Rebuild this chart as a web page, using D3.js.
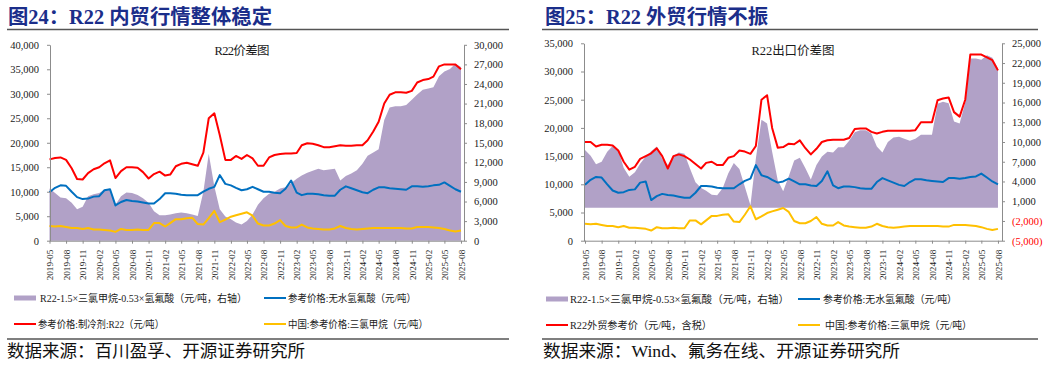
<!DOCTYPE html>
<html>
<head>
<meta charset="utf-8">
<script src="https://cdn.jsdelivr.net/npm/d3@7"></script>
<style>
  body { margin: 0; background: #fff; }
  svg { display: block; }
  text { font-family: "Liberation Serif", "Noto Sans CJK SC", serif; }
</style>
</head>
<body>
<svg id="chart" width="1057" height="366"></svg>
<script>
/* globals d3 */

// monthly samples, 2019-05 .. 2025-08
const months = d3.timeMonth.range(new Date(2019, 4, 1), new Date(2025, 8, 1));
const END_DATE = new Date(2025, 7, 20);

const tickLabels = [
  '2019-05', '2019-08', '2019-11', '2020-02', '2020-05', '2020-08', '2020-11',
  '2021-02', '2021-05', '2021-08', '2021-11', '2022-02', '2022-05', '2022-08',
  '2022-11', '2023-02', '2023-05', '2023-08', '2023-11', '2024-02', '2024-05',
  '2024-08', '2024-11', '2025-02', '2025-05', '2025-08',
];

// 参考价格:无水氢氟酸 (元/吨)
const hfPrice = [
  9900, 10800, 11300, 11200, 10000, 8900, 8500, 8600, 9000, 9100,
  10300, 10500, 7200, 7900, 8300, 8100, 8000, 7800, 7600, 7600,
  8500, 9700, 9700, 9600, 9400, 9300, 9300, 9300, 10000, 10600,
  11000, 13400, 11600, 11300, 10800, 10300, 10500, 11000, 10500, 10000,
  10000, 9800, 9700, 10600, 12300, 9800, 9300, 9600, 9600, 9500,
  9300, 9200, 9200, 10400, 11100, 10700, 10300, 9900, 9700, 10400,
  10900, 10900, 10700, 10600, 10500, 10400, 11100, 11100, 11000, 11100,
  11300, 11400, 11900, 11200, 10500, 10000,
];

// 中国:参考价格:三氯甲烷 (元/吨)
const tcmPrice = [
  3000, 2900, 3000, 2800, 2600, 2600, 2400, 2600, 2300, 2300,
  2200, 2100, 1800, 2400, 2200, 2200, 2300, 2200, 2200, 3600,
  3600, 2900, 3600, 4400, 4400, 4600, 4700, 3400, 3300, 4600,
  6100, 3800, 4300, 4900, 5200, 5500, 5800, 5100, 3500, 3100,
  3100, 3500, 4200, 3000, 2700, 2700, 3300, 2700, 2500, 2400,
  2300, 2300, 2500, 3000, 2600, 2400, 2300, 2400, 2500, 2600,
  2600, 2600, 2600, 2600, 2600, 2500, 2500, 2800, 2800, 2800,
  2700, 2600, 2400, 2100, 1900, 2100,
];

// 参考价格:制冷剂:R22 (元/吨)
const r22Domestic = [
  16600, 16900, 17000, 16500, 14800, 12600, 12500, 13800, 14600, 15000,
  15800, 16400, 12800, 14200, 15000, 15000, 14900, 14000, 12700, 13600,
  14100, 13300, 13500, 15200, 15700, 15900, 15600, 15300, 18000, 25000,
  26000, 21600, 16500, 16500, 17300, 16700, 17500, 16800, 15300, 15300,
  17000, 17500, 17700, 17800, 17800, 17900, 19500, 19900, 19800, 19500,
  19100, 19100, 19300, 19500, 19400, 19400, 19500, 19500, 20500, 22300,
  24300, 28000, 29800, 30300, 30300, 30200, 30600, 32300, 32800, 33000,
  33500, 35600, 36000, 36000, 36000, 35000,
];

// R22-1.5×三氯甲烷-0.53×氢氟酸, domestic (右轴)
const spreadDomestic = [
  8000, 7300, 6600, 6500, 5800, 4800, 5200, 6800, 7100, 7300,
  7800, 7800, 5500, 6800, 7400, 7300, 7000, 6500, 5800, 4500,
  3900, 3900, 4000, 4200, 4300, 4200, 4000, 3800, 7500, 13300,
  8300, 4800, 3700, 3300, 2800, 2500, 3000, 4000, 5500, 6500,
  7200, 7500, 8000, 8200, 8800, 9500, 10000, 10400, 10700, 11000,
  10800, 10900, 11000, 9200, 9900, 10300, 10800, 11800, 13000, 13500,
  14000, 18500, 20400, 20600, 20600, 20800, 21600, 22400, 23100, 23300,
  23500, 25200, 25900, 26300, 27100, 26600,
];

// R22外贸参考价 (元/吨, 含税)
const r22Export = [
  17500, 17500, 16700, 17000, 17000, 16900, 16000, 14000, 12600, 13100,
  14500, 15000, 15500, 16400, 15000, 12800, 15000, 15300, 15000, 14400,
  13600, 12800, 13800, 14000, 13400, 13400, 14700, 15000, 16000, 15800,
  15400, 16800, 25000, 25800, 20000, 16500, 16600, 17200, 17100, 17800,
  16400, 15300, 16300, 17500, 17800, 17900, 17900, 17900, 18200, 19800,
  19900, 19900, 19300, 19000, 19300, 19500, 19500, 19500, 19500, 19500,
  19600, 21000, 21000, 21000, 24900, 25200, 25400, 22800, 22000, 25000,
  33000, 33000, 33000, 32500, 32000, 30200,
];

// R22-1.5×三氯甲烷-0.53×氢氟酸, export (右轴)
const spreadExport = [
  8800, 7900, 6600, 7000, 8500, 9400, 8800, 6100, 4700, 5400,
  6700, 7800, 8600, 9300, 7400, 6500, 7900, 8400, 8200, 6000,
  3900, 3000, 2600, 2000, 1900, 3000, 5200, 6800, 5900, 3200,
  400, 7500, 13400, 12800, 8500, 4200, 2500, 4800, 7200, 7600,
  6000, 4300, 6500, 7800, 8500, 8400, 9200, 9200, 10200, 11500,
  11800, 11800, 11300, 9300, 8400, 10000, 10700, 10800, 10500, 10200,
  10500, 11100, 11100, 11100, 15800, 16100, 15900, 13100, 12800, 16000,
  22700, 22700, 22500, 23200, 22800, 21200,
];

const COLORS = {
  spread: '#b1a1c7',
  hf: '#0070c0',
  r22: '#ff0000',
  tcm: '#ffc000',
  axis: '#8c8c8c',
  label: '#1a1a1a',
  title: '#1b2e8a',
  rule: '#555',
};

const PANELS = [
  {
    title: '图24：R22 内贸行情整体稳定',
    titleX: 8,
    titleW: 264,
    rule: [7, 509],
    chartTitle: 'R22价差图',
    chartTitleX: 242,
    chartTitleW: 55,
    plot: { left: 50, right: 464, top: 44.8, bottom: 240.7 },
    xStart: 49.5,
    xEnd: 464.4,
    leftDomain: [0, 40000],
    leftStep: 5000,
    rightDomain: [0, 30000],
    rightStep: 3000,
    red: r22Domestic,
    spread: spreadDomestic,
    legend: [
      { key: 'spread', label: 'R22-1.5×三氯甲烷-0.53×氢氟酸（元/吨，右轴）', sx: 14, tx: 40, w: 207, y: 298 },
      { key: 'hf', label: '参考价格:无水氢氟酸（元/吨）', sx: 264, tx: 288, w: 128, y: 298 },
      { key: 'r22', label: '参考价格:制冷剂:R22（元/吨）', sx: 14, tx: 38, w: 126, y: 324 },
      { key: 'tcm', label: '中国:参考价格:三氯甲烷（元/吨）', sx: 264, tx: 288, w: 140, y: 324 },
    ],
    source: '数据来源：百川盈孚、开源证券研究所',
    sourceX: 7,
    sourceW: 298,
  },
  {
    title: '图25：R22 外贸行情不振',
    titleX: 545,
    titleW: 223,
    rule: [542, 1038],
    chartTitle: 'R22出口价差图',
    chartTitleX: 793,
    chartTitleW: 83,
    plot: { left: 584, right: 1002, top: 43.3, bottom: 240.7 },
    xStart: 585,
    xEnd: 1001.4,
    leftDomain: [0, 35000],
    leftStep: 5000,
    rightDomain: [-5000, 25000],
    rightStep: 3000,
    red: r22Export,
    spread: spreadExport,
    legend: [
      { key: 'spread', label: 'R22-1.5×三氯甲烷-0.53×氢氟酸（元/吨，右轴）', sx: 546, tx: 570, w: 219, y: 299 },
      { key: 'hf', label: '参考价格:无水氢氟酸（元/吨）', sx: 798, tx: 823, w: 134, y: 299 },
      { key: 'r22', label: 'R22外贸参考价（元/吨，含税）', sx: 546, tx: 570, w: 142, y: 325 },
      { key: 'tcm', label: '中国:参考价格:三氯甲烷（元/吨）', sx: 798, tx: 825, w: 147, y: 325 },
    ],
    source: '数据来源：Wind、氟务在线、开源证券研究所',
    sourceX: 543,
    sourceW: 357,
  },
];

const fmtNum = d3.format(',');
const fmtAcct = v => (v < 0 ? `(${fmtNum(-v)})` : fmtNum(v));
const parseMonth = d3.timeParse('%Y-%m');

const styleAxis = g => {
  g.select('.domain').attr('stroke', COLORS.axis);
  g.selectAll('.tick line').attr('stroke', COLORS.axis);
  g.selectAll('.tick text')
    .attr('fill', COLORS.label)
    .attr('font-family', '"Liberation Serif", serif')
    .attr('font-size', 10.5);
};

const makePanel = (svg, cfg) => {
  const { plot } = cfg;
  const g = svg.append('g');

  const x = d3.scaleTime()
    .domain([months[0], END_DATE])
    .range([cfg.xStart, cfg.xEnd]);
  const yL = d3.scaleLinear().domain(cfg.leftDomain).range([plot.bottom, plot.top]);
  const yR = d3.scaleLinear().domain(cfg.rightDomain).range([plot.bottom, plot.top]);

  // header
  g.append('text')
    .attr('x', cfg.titleX)
    .attr('y', 24)
    .attr('font-size', 20)
    .attr('font-weight', 700)
    .attr('fill', COLORS.title)
    .attr('textLength', cfg.titleW)
    .attr('lengthAdjust', 'spacingAndGlyphs')
    .text(cfg.title);
  g.append('line')
    .attr('x1', cfg.rule[0]).attr('x2', cfg.rule[1])
    .attr('y1', 29.5).attr('y2', 29.5)
    .attr('stroke', COLORS.rule).attr('stroke-width', 1.5);

  // spread area on the right axis
  const area = d3.area()
    .x((d, i) => x(months[i]))
    .y0(yR(0))
    .y1(d => yR(d));
  g.append('path')
    .datum(cfg.spread)
    .attr('d', area)
    .attr('fill', COLORS.spread);

  const line = d3.line()
    .x((d, i) => x(months[i]))
    .y(d => yL(d));
  [
    [hfPrice, COLORS.hf],
    [tcmPrice, COLORS.tcm],
    [cfg.red, COLORS.r22],
  ].forEach(([values, color]) => {
    g.append('path')
      .datum(values)
      .attr('d', line)
      .attr('fill', 'none')
      .attr('stroke', color)
      .attr('stroke-width', 2)
      .attr('stroke-linejoin', 'round');
  });

  // axes
  g.append('g')
    .attr('transform', `translate(${plot.left},0)`)
    .call(d3.axisLeft(yL)
      .tickValues(d3.range(cfg.leftDomain[0], cfg.leftDomain[1] + 1, cfg.leftStep))
      .tickSize(3).tickPadding(8).tickSizeOuter(0)
      .tickFormat(fmtNum))
    .call(styleAxis);

  g.append('g')
    .attr('transform', `translate(${plot.right},0)`)
    .call(d3.axisRight(yR)
      .tickValues(d3.range(cfg.rightDomain[0], cfg.rightDomain[1] + 1, cfg.rightStep))
      .tickSize(3).tickPadding(7).tickSizeOuter(0)
      .tickFormat(fmtAcct))
    .call(styleAxis)
    .call(ax => ax.selectAll('.tick text')
      .attr('fill', d => (d < 0 ? COLORS.r22 : COLORS.label)));

  g.append('g')
    .attr('transform', `translate(0,${plot.bottom})`)
    .call(d3.axisBottom(x)
      .tickValues(tickLabels.map(parseMonth))
      .tickSize(3).tickSizeOuter(0)
      .tickFormat(d3.timeFormat('%Y-%m')))
    .call(styleAxis)
    .call(ax => ax.select('.domain').attr('d', `M${plot.left},0.5H${plot.right}`))
    .call(ax => ax.selectAll('.tick text')
      .attr('font-size', 9.2)
      .attr('transform', 'rotate(-90)')
      .attr('text-anchor', 'end')
      .attr('x', -9)
      .attr('y', 0)
      .attr('dy', '0.35em'));

  g.append('text')
    .attr('x', cfg.chartTitleX)
    .attr('y', 54.5)
    .attr('text-anchor', 'middle')
    .attr('font-size', 12.5)
    .attr('fill', COLORS.label)
    .attr('textLength', cfg.chartTitleW)
    .attr('lengthAdjust', 'spacing')
    .text(cfg.chartTitle);

  // legend
  const items = g.selectAll('.legend-item')
    .data(cfg.legend)
    .join('g')
    .attr('class', 'legend-item');
  items.filter(d => d.key === 'spread')
    .append('rect')
    .attr('x', d => d.sx).attr('y', d => d.y - 2.5)
    .attr('width', 22).attr('height', 5)
    .attr('fill', COLORS.spread);
  items.filter(d => d.key !== 'spread')
    .append('line')
    .attr('x1', d => d.sx).attr('x2', d => d.sx + 22)
    .attr('y1', d => d.y).attr('y2', d => d.y)
    .attr('stroke', d => COLORS[d.key])
    .attr('stroke-width', 2);
  items.append('text')
    .attr('x', d => d.tx)
    .attr('y', d => d.y)
    .attr('dy', '0.36em')
    .attr('font-size', 10.5)
    .attr('fill', COLORS.label)
    .attr('textLength', d => d.w)
    .attr('lengthAdjust', 'spacingAndGlyphs')
    .text(d => d.label);

  // footer
  g.append('line')
    .attr('x1', cfg.rule[0]).attr('x2', cfg.rule[1])
    .attr('y1', 339).attr('y2', 339)
    .attr('stroke', COLORS.rule).attr('stroke-width', 1.5);
  g.append('text')
    .attr('x', cfg.sourceX)
    .attr('y', 357)
    .attr('font-size', 17)
    .attr('fill', '#111')
    .attr('textLength', cfg.sourceW)
    .attr('lengthAdjust', 'spacingAndGlyphs')
    .text(cfg.source);
};

const svg = d3.select('#chart');
svg.append('rect').attr('width', 1057).attr('height', 366).attr('fill', '#fff');
PANELS.forEach(cfg => makePanel(svg, cfg));
</script>
</body>
</html>
